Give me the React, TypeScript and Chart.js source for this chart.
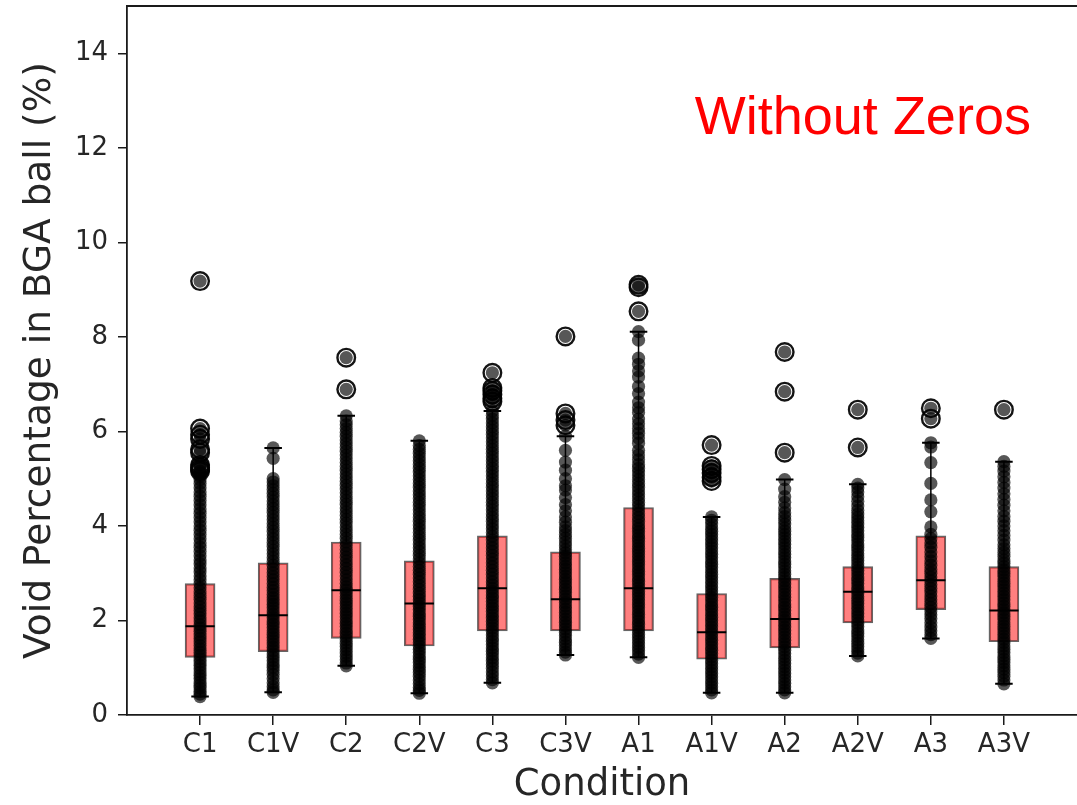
import React, { useEffect, useRef } from "react";
import { Chart, registerables } from "chart.js";

Chart.register(...registerables);

const categories = ["C1", "C1V", "C2", "C2V", "C3", "C3V", "A1", "A1V", "A2", "A2V", "A3", "A3V"];
const q1 = [1.22, 1.34, 1.62, 1.46, 1.78, 1.78, 1.78, 1.18, 1.42, 1.95, 2.23, 1.55];
const medians = [1.88, 2.11, 2.64, 2.36, 2.68, 2.45, 2.68, 1.75, 2.03, 2.61, 2.85, 2.21];
const q3 = [2.78, 3.22, 3.66, 3.26, 3.79, 3.45, 4.39, 2.57, 2.89, 3.14, 3.79, 3.14];
const whiskerLow = [0.39, 0.48, 1.04, 0.46, 0.68, 1.27, 1.22, 0.47, 0.47, 1.25, 1.62, 0.66];
const whiskerHigh = [5.12, 5.65, 6.33, 5.8, 6.43, 5.9, 8.11, 4.19, 4.98, 4.88, 5.76, 5.36];
const yTicks = [0, 2, 4, 6, 8, 10, 12, 14];

const c1Values = [0.39,0.44,0.5,0.57,0.63,0.7,0.77,0.84,0.91,0.98,1.05,1.12,1.19,1.26,1.33,1.4,1.47,1.55,1.62,1.69,1.77,1.84,1.91,1.99,2.06,2.14,2.21,2.29,2.37,2.45,2.53,2.61,2.69,2.77,2.86,2.94,3.03,3.11,3.2,3.28,3.37,3.46,3.55,3.64,3.73,3.82,3.91,4.0,4.09,4.18,4.27,4.36,4.45,4.54,4.63,4.72,4.81,4.9,4.98,5.05,5.12,5.16,5.2,5.24,5.29,5.55,5.62,5.84,5.93,6.06,9.18];
const c1vValues = [0.48,0.53,0.6,0.68,0.77,0.86,0.94,1.01,1.08,1.15,1.22,1.29,1.36,1.43,1.5,1.57,1.64,1.71,1.78,1.85,1.92,1.99,2.06,2.13,2.2,2.27,2.34,2.41,2.48,2.55,2.63,2.7,2.78,2.86,2.93,3.01,3.09,3.17,3.25,3.33,3.41,3.49,3.57,3.65,3.73,3.81,3.89,3.97,4.05,4.13,4.21,4.29,4.37,4.45,4.53,4.61,4.69,4.77,4.85,4.93,5.0,5.43,5.65];
const c2Values = [1.04,1.1,1.17,1.24,1.31,1.38,1.45,1.52,1.59,1.66,1.73,1.8,1.87,1.94,2.01,2.08,2.15,2.22,2.29,2.36,2.43,2.5,2.57,2.64,2.71,2.78,2.86,2.94,3.02,3.1,3.18,3.26,3.34,3.42,3.5,3.58,3.66,3.74,3.82,3.9,3.98,4.06,4.14,4.22,4.3,4.38,4.46,4.54,4.62,4.7,4.78,4.86,4.94,5.02,5.1,5.18,5.26,5.34,5.42,5.5,5.58,5.66,5.74,5.82,5.9,5.98,6.06,6.14,6.22,6.33,6.89,7.56];
const c2vValues = [0.46,0.52,0.58,0.66,0.74,0.82,0.9,0.97,1.04,1.11,1.18,1.25,1.32,1.39,1.46,1.53,1.6,1.67,1.74,1.81,1.88,1.95,2.02,2.09,2.16,2.23,2.3,2.37,2.44,2.51,2.58,2.66,2.74,2.82,2.9,2.98,3.06,3.14,3.22,3.3,3.38,3.46,3.54,3.62,3.7,3.78,3.86,3.94,4.02,4.1,4.18,4.26,4.34,4.42,4.5,4.58,4.66,4.74,4.82,4.9,4.98,5.06,5.14,5.22,5.3,5.38,5.46,5.54,5.62,5.7,5.8];
const c3Values = [0.68,0.75,0.83,0.91,0.99,1.07,1.14,1.21,1.28,1.35,1.42,1.49,1.56,1.63,1.7,1.77,1.84,1.91,1.98,2.05,2.12,2.19,2.26,2.33,2.4,2.47,2.54,2.61,2.68,2.75,2.82,2.9,2.98,3.06,3.14,3.22,3.3,3.38,3.46,3.54,3.62,3.7,3.78,3.86,3.94,4.02,4.1,4.18,4.26,4.34,4.42,4.5,4.58,4.66,4.74,4.82,4.9,4.98,5.06,5.14,5.22,5.3,5.38,5.46,5.54,5.62,5.7,5.78,5.86,5.94,6.02,6.1,6.18,6.26,6.34,6.43,6.63,6.7,6.78,6.86,6.92,7.24];
const c3vValues = [1.27,1.33,1.4,1.47,1.54,1.61,1.68,1.75,1.82,1.89,1.96,2.03,2.1,2.17,2.24,2.31,2.38,2.45,2.52,2.59,2.66,2.73,2.8,2.87,2.94,3.01,3.08,3.15,3.22,3.29,3.36,3.43,3.5,3.58,3.66,3.74,3.82,3.9,3.98,4.08,4.19,4.32,4.45,4.6,4.76,4.85,5.0,5.18,5.35,5.6,5.9,6.13,6.24,6.38,8.01];
const a1Values = [1.22,1.29,1.36,1.43,1.5,1.57,1.64,1.71,1.78,1.85,1.92,1.99,2.06,2.13,2.2,2.27,2.34,2.41,2.48,2.55,2.62,2.69,2.76,2.83,2.9,2.97,3.04,3.11,3.18,3.25,3.32,3.39,3.46,3.53,3.6,3.67,3.74,3.81,3.88,3.95,4.02,4.1,4.18,4.26,4.34,4.42,4.5,4.58,4.66,4.74,4.82,4.9,4.98,5.06,5.14,5.22,5.3,5.4,5.5,5.6,5.75,5.86,5.96,6.06,6.16,6.26,6.4,6.5,6.62,6.8,6.95,7.15,7.28,7.42,7.55,7.93,8.11,8.54,9.05,9.1];
const a1vValues = [0.47,0.53,0.6,0.67,0.74,0.81,0.88,0.95,1.02,1.09,1.16,1.23,1.3,1.37,1.44,1.51,1.58,1.65,1.72,1.79,1.86,1.93,2.0,2.07,2.14,2.21,2.28,2.35,2.42,2.49,2.56,2.63,2.7,2.77,2.84,2.91,2.98,3.05,3.12,3.19,3.26,3.33,3.4,3.47,3.54,3.61,3.68,3.75,3.82,3.89,3.96,4.04,4.12,4.19,4.95,5.03,5.12,5.2,5.27,5.71];
const a2Values = [0.47,0.53,0.6,0.67,0.74,0.81,0.88,0.95,1.02,1.09,1.16,1.23,1.3,1.37,1.44,1.51,1.58,1.65,1.72,1.79,1.86,1.93,2.0,2.07,2.14,2.21,2.28,2.35,2.42,2.49,2.56,2.63,2.7,2.77,2.84,2.91,2.98,3.05,3.12,3.19,3.26,3.33,3.4,3.47,3.54,3.61,3.68,3.75,3.82,3.89,3.96,4.04,4.12,4.2,4.28,4.38,4.5,4.62,4.78,4.98,5.55,6.84,7.68];
const a2vValues = [1.25,1.31,1.38,1.45,1.52,1.59,1.66,1.73,1.8,1.87,1.94,2.01,2.08,2.15,2.22,2.29,2.36,2.43,2.5,2.57,2.64,2.71,2.78,2.85,2.92,2.99,3.06,3.13,3.2,3.27,3.34,3.41,3.48,3.55,3.62,3.69,3.76,3.83,3.9,3.97,4.04,4.11,4.18,4.25,4.33,4.42,4.52,4.62,4.72,4.8,4.88,5.66,6.46];
const a3Values = [1.62,1.7,1.78,1.86,1.95,2.04,2.12,2.2,2.28,2.36,2.44,2.52,2.6,2.68,2.76,2.84,2.92,3.0,3.08,3.17,3.26,3.35,3.45,3.55,3.64,3.73,3.82,3.98,4.3,4.55,4.9,5.34,5.67,5.76,6.27,6.49];
const a3vValues = [0.66,0.74,0.82,0.9,0.97,1.04,1.11,1.18,1.25,1.32,1.39,1.46,1.53,1.6,1.67,1.74,1.81,1.88,1.95,2.02,2.09,2.16,2.23,2.3,2.37,2.44,2.51,2.58,2.65,2.72,2.79,2.86,2.93,3.0,3.07,3.14,3.21,3.28,3.36,3.44,3.52,3.6,3.7,3.8,3.9,4.0,4.1,4.2,4.32,4.44,4.56,4.68,4.8,4.92,5.04,5.16,5.26,5.36,6.46];

const pointValues = [c1Values, c1vValues, c2Values, c2vValues, c3Values, c3vValues, a1Values, a1vValues, a2Values, a2vValues, a3Values, a3vValues];

const annotationText = "Without Zeros";
const annotationX = 6.77;
const annotationY = 12.3;

const BOX_HALF = 0.2;
const CAP_HALF = 0.12;

const overlayPlugin = {
  id: "overlay",
  afterDraw(chart: any) {
    const { ctx, chartArea, scales } = chart;
    ctx.save();
    ctx.strokeStyle = "#1a1a1a";
    ctx.lineWidth = 1.8;
    ctx.beginPath();
    ctx.moveTo(chartArea.left, chartArea.top);
    ctx.lineTo(chartArea.right, chartArea.top);
    ctx.stroke();
    ctx.fillStyle = "#ff0000";
    ctx.font = '54px "Liberation Sans", Arial, sans-serif';
    ctx.textBaseline = "alphabetic";
    ctx.textAlign = "left";
    ctx.fillText(annotationText, scales.x.getPixelForValue(annotationX), scales.y.getPixelForValue(annotationY));
    ctx.restore();
  },
};

export default function App() {
  const canvasRef = useRef<HTMLCanvasElement | null>(null);

  useEffect(() => {
    const canvas = canvasRef.current;
    if (!canvas) return;

    const boxData = categories.map((_, i) => ({ x: i, y: [q1[i], q3[i]] }));
    const whiskerData: any[] = [];
    const capData: any[] = [];
    const medianData: any[] = [];
    categories.forEach((_, i) => {
      whiskerData.push({ x: i, y: whiskerLow[i] }, { x: i, y: q1[i] }, { x: i, y: null });
      whiskerData.push({ x: i, y: q3[i] }, { x: i, y: whiskerHigh[i] }, { x: i, y: null });
      capData.push({ x: i - CAP_HALF, y: whiskerLow[i] }, { x: i + CAP_HALF, y: whiskerLow[i] }, { x: i, y: null });
      capData.push({ x: i - CAP_HALF, y: whiskerHigh[i] }, { x: i + CAP_HALF, y: whiskerHigh[i] }, { x: i, y: null });
      medianData.push({ x: i - BOX_HALF, y: medians[i] }, { x: i + BOX_HALF, y: medians[i] }, { x: i, y: null });
    });
    const scatterData: any[] = [];
    const flierData: any[] = [];
    pointValues.forEach((vals, i) => {
      vals.forEach((v) => {
        scatterData.push({ x: i, y: v });
        if (v > whiskerHigh[i] || v < whiskerLow[i]) flierData.push({ x: i, y: v });
      });
    });

    Chart.defaults.font.family = '"DejaVu Sans", sans-serif';

    const chart = new Chart(canvas, {
      type: "bar",
      data: {
        datasets: [
          {
            type: "bar",
            data: boxData as any,
            backgroundColor: "rgba(255,0,0,0.5)",
            borderColor: "rgba(50,50,50,0.75)",
            borderWidth: 1.5,
            borderSkipped: false,
            barThickness: 30,
            order: 6,
          } as any,
          {
            type: "line",
            data: whiskerData,
            borderColor: "#000",
            borderWidth: 1.5,
            pointRadius: 0,
            spanGaps: false,
            fill: false,
            order: 5,
          } as any,
          {
            type: "line",
            data: capData,
            borderColor: "#000",
            borderWidth: 2,
            pointRadius: 0,
            spanGaps: false,
            fill: false,
            order: 4,
          } as any,
          {
            type: "scatter",
            data: scatterData,
            pointRadius: 6.6,
            pointBackgroundColor: "rgba(0,0,0,0.66)",
            pointBorderWidth: 0,
            order: 3,
          } as any,
          {
            type: "line",
            data: medianData,
            borderColor: "#000",
            borderWidth: 2,
            pointRadius: 0,
            spanGaps: false,
            fill: false,
            order: 2,
          } as any,
          {
            type: "scatter",
            data: flierData,
            pointRadius: 8.8,
            pointBackgroundColor: "rgba(0,0,0,0)",
            pointBorderColor: "rgba(0,0,0,0.92)",
            pointBorderWidth: 2.4,
            order: 1,
          } as any,
        ],
      },
      options: {
        animation: false,
        responsive: false,
        maintainAspectRatio: false,
        events: [],
        layout: { autoPadding: false, padding: { top: 6, left: 0, right: -4, bottom: 0 } },
        plugins: {
          legend: { display: false },
          tooltip: { enabled: false },
        },
        scales: {
          x: {
            type: "linear",
            min: -1,
            max: 12,
            offset: false,
            afterBuildTicks: (scale: any) => {
              scale.ticks = categories.map((_, i) => ({ value: i }));
            },
            afterFit: (scale: any) => {
              scale.height = 90;
              scale.paddingLeft = 0;
              scale.paddingRight = 0;
            },
            ticks: {
              autoSkip: false,
              maxRotation: 0,
              minRotation: 0,
              padding: 5,
              color: "#262626",
              font: { size: 26 },
              callback: (value: any) => categories[Math.round(Number(value))] ?? "",
            },
            grid: {
              offset: false,
              drawOnChartArea: false,
              drawTicks: true,
              tickLength: 10,
              color: "#1a1a1a",
              lineWidth: 1.5,
            },
            border: { display: true, color: "#1a1a1a", width: 1.8 },
            title: {
              display: true,
              text: "Condition",
              color: "#262626",
              font: { size: 37, lineHeight: 1 },
              padding: { top: 0, bottom: 1 },
            },
          },
          y: {
            type: "linear",
            min: 0,
            max: 15,
            afterBuildTicks: (scale: any) => {
              scale.ticks = yTicks.map((v) => ({ value: v }));
            },
            afterFit: (scale: any) => {
              scale.width = 127;
              scale.paddingTop = 0;
              scale.paddingBottom = 0;
            },
            ticks: {
              padding: 10,
              color: "#262626",
              font: { size: 26 },
            },
            grid: {
              drawOnChartArea: false,
              drawTicks: true,
              tickLength: 9,
              color: "#1a1a1a",
              lineWidth: 1.5,
            },
            border: { display: true, color: "#1a1a1a", width: 1.8 },
            title: {
              display: true,
              text: "Void Percentage in BGA ball (%)",
              color: "#262626",
              font: { size: 37.5, lineHeight: 1 },
              padding: { top: 22, bottom: 0 },
            },
          },
        },
      },
      plugins: [overlayPlugin],
    } as any);

    return () => {
      chart.destroy();
    };
  }, []);

  return (
    <div style={{ position: "fixed", left: 0, top: 0, width: 1077, height: 805, background: "#fff", overflow: "hidden" }}>
      <canvas ref={canvasRef} width={1077} height={805} style={{ display: "block", width: 1077, height: 805 }} />
    </div>
  );
}
